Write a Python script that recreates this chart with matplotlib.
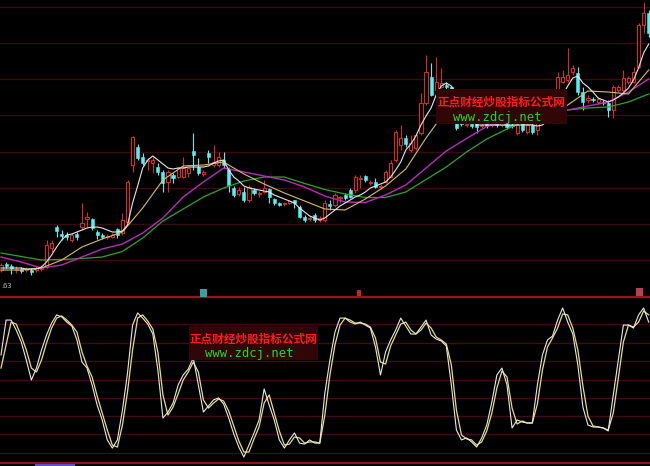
import matplotlib
matplotlib.use('Agg')
from matplotlib import pyplot as plt
from matplotlib.lines import Line2D
from matplotlib.patches import Rectangle
import numpy as np

plt.rcParams['font.family'] = ['Noto Sans CJK SC', 'DejaVu Sans']

# daily bars
opens = [4.78, 4.84, 4.82, 4.78, 4.79, 4.78, 4.78, 4.78, 4.79, 4.81,
         5.00, 5.21, 5.14, 5.13, 5.08, 5.14, 5.21, 5.29, 5.29, 5.16,
         5.13, 5.11, 5.11, 5.19, 5.15, 5.26, 5.83, 6.01, 5.91, 5.87,
         5.85, 5.81, 5.76, 5.66, 5.73, 5.71, 5.71, 5.75, 5.97, 5.81,
         5.74, 5.95, 5.83, 5.83, 5.88, 5.79, 5.60, 5.54, 5.56, 5.48,
         5.58, 5.54, 5.56, 5.59, 5.49, 5.45, 5.44, 5.45, 5.48, 5.41,
         5.31, 5.29, 5.33, 5.28, 5.28, 5.44, 5.43, 5.50, 5.53, 5.58,
         5.58, 5.69, 5.72, 5.65, 5.66, 5.61, 5.66, 5.71, 5.88, 6.03,
         6.10, 5.98, 6.00, 6.15, 6.45, 6.71, 6.58, 6.61, 6.63, 6.61,
         6.28, 6.25, 6.23, 6.24, 6.25, 6.22, 6.24, 6.23, 6.26, 6.23,
         6.24, 6.23, 6.15, 6.26, 6.16, 6.23, 6.18, 6.32, 6.33, 6.43,
         6.58, 6.66, 6.68, 6.76, 6.75, 6.56, 6.48, 6.49, 6.46, 6.46,
         6.45, 6.38, 6.58, 6.58, 6.66, 6.66, 6.81, 7.23, 7.35]
highs = [4.85, 4.86, 4.84, 4.82, 4.81, 4.81, 4.80, 4.82, 4.83, 5.08,
         5.08, 5.23, 5.18, 5.16, 5.15, 5.16, 5.45, 5.36, 5.30, 5.18,
         5.15, 5.14, 5.15, 5.20, 5.35, 5.68, 6.12, 6.04, 5.95, 5.90,
         5.91, 5.85, 5.78, 5.78, 5.75, 5.81, 5.91, 5.81, 6.15, 5.90,
         5.78, 5.98, 6.03, 5.96, 5.96, 5.81, 5.62, 5.61, 5.61, 5.63,
         5.60, 5.57, 5.68, 5.60, 5.50, 5.46, 5.46, 5.48, 5.48, 5.43,
         5.33, 5.32, 5.35, 5.32, 5.48, 5.48, 5.55, 5.52, 5.55, 5.60,
         5.73, 5.73, 5.73, 5.68, 5.70, 5.64, 5.78, 5.88, 6.18, 6.23,
         6.13, 6.13, 6.15, 6.55, 6.93, 6.85, 6.91, 6.80, 6.66, 6.62,
         6.35, 6.27, 6.26, 6.26, 6.27, 6.26, 6.26, 6.27, 6.28, 6.27,
         6.26, 6.25, 6.25, 6.28, 6.25, 6.25, 6.33, 6.35, 6.43, 6.58,
         6.76, 6.78, 7.00, 6.83, 6.81, 6.61, 6.53, 6.51, 6.51, 6.48,
         6.48, 6.63, 6.63, 6.78, 6.72, 6.81, 7.25, 7.46, 7.38]
lows = [4.76, 4.80, 4.74, 4.75, 4.75, 4.76, 4.73, 4.76, 4.77, 4.80,
        4.96, 5.11, 5.08, 5.08, 5.06, 5.08, 5.18, 5.21, 5.18, 5.09,
        5.09, 5.09, 5.10, 5.10, 5.13, 5.25, 5.76, 5.88, 5.83, 5.78,
        5.75, 5.73, 5.56, 5.56, 5.65, 5.70, 5.70, 5.71, 5.78, 5.73,
        5.72, 5.85, 5.81, 5.81, 5.80, 5.56, 5.51, 5.52, 5.46, 5.46,
        5.53, 5.51, 5.55, 5.45, 5.43, 5.42, 5.42, 5.44, 5.40, 5.30,
        5.26, 5.27, 5.26, 5.26, 5.26, 5.38, 5.41, 5.45, 5.48, 5.50,
        5.55, 5.60, 5.66, 5.63, 5.60, 5.59, 5.65, 5.70, 5.86, 5.98,
        6.01, 5.96, 5.98, 6.13, 6.43, 6.52, 6.56, 6.60, 6.56, 6.57,
        6.18, 6.22, 6.21, 6.20, 6.15, 6.20, 6.20, 6.21, 6.21, 6.21,
        6.19, 6.20, 6.13, 6.16, 6.14, 6.14, 6.13, 6.27, 6.31, 6.40,
        6.56, 6.65, 6.66, 6.73, 6.53, 6.38, 6.45, 6.46, 6.44, 6.43,
        6.31, 6.30, 6.56, 6.56, 6.64, 6.65, 6.80, 7.15, 7.11]
closes = [4.83, 4.82, 4.80, 4.79, 4.77, 4.79, 4.76, 4.80, 4.81, 5.03,
          5.05, 5.17, 5.12, 5.11, 5.13, 5.11, 5.25, 5.31, 5.20, 5.13,
          5.11, 5.12, 5.13, 5.13, 5.28, 5.66, 6.11, 5.90, 5.85, 5.88,
          5.88, 5.76, 5.65, 5.76, 5.70, 5.80, 5.80, 5.80, 5.93, 5.75,
          5.76, 5.91, 5.86, 5.91, 5.83, 5.63, 5.53, 5.58, 5.48, 5.61,
          5.55, 5.55, 5.60, 5.51, 5.45, 5.43, 5.45, 5.47, 5.45, 5.31,
          5.28, 5.30, 5.28, 5.30, 5.45, 5.42, 5.53, 5.51, 5.50, 5.51,
          5.71, 5.70, 5.68, 5.66, 5.61, 5.62, 5.76, 5.85, 6.16, 6.10,
          6.04, 6.05, 6.13, 6.45, 6.76, 6.53, 6.66, 6.65, 6.61, 6.59,
          6.20, 6.24, 6.24, 6.22, 6.21, 6.23, 6.22, 6.25, 6.23, 6.25,
          6.21, 6.22, 6.23, 6.18, 6.23, 6.16, 6.28, 6.29, 6.40, 6.56,
          6.71, 6.71, 6.73, 6.80, 6.56, 6.46, 6.50, 6.48, 6.49, 6.45,
          6.38, 6.61, 6.61, 6.70, 6.70, 6.76, 7.23, 7.35, 7.15]

# moving averages
ma5 = [4.80, 4.80, 4.80, 4.80, 4.80, 4.79, 4.79, 4.79, 4.81, 4.86,
       4.93, 5.01, 5.08, 5.13, 5.14, 5.16, 5.18, 5.20, 5.21, 5.21,
       5.20, 5.18, 5.16, 5.16, 5.17, 5.23, 5.45, 5.62, 5.80, 5.88,
       5.92, 5.88, 5.84, 5.80, 5.79, 5.80, 5.80, 5.81, 5.81, 5.81,
       5.81, 5.82, 5.85, 5.87, 5.88, 5.78, 5.71, 5.67, 5.62, 5.60,
       5.59, 5.58, 5.57, 5.56, 5.53, 5.51, 5.49, 5.47, 5.45, 5.40,
       5.36, 5.32, 5.30, 5.28, 5.30, 5.34, 5.38, 5.42, 5.45, 5.48,
       5.51, 5.53, 5.56, 5.60, 5.62, 5.64, 5.66, 5.71, 5.78, 5.86,
       5.98, 6.04, 6.12, 6.23, 6.32, 6.40, 6.53, 6.62, 6.65, 6.62,
       6.54, 6.46, 6.38, 6.30, 6.23, 6.23, 6.23, 6.23, 6.23, 6.23,
       6.23, 6.23, 6.23, 6.23, 6.23, 6.23, 6.22, 6.23, 6.27, 6.34,
       6.45, 6.53, 6.62, 6.70, 6.72, 6.65, 6.61, 6.56, 6.50, 6.48,
       6.46, 6.48, 6.51, 6.55, 6.60, 6.68, 6.80, 6.95, 7.04]
ma_idx = list(range(0, 129, 4))
ma10 = [4.78, 4.78, 4.80, 4.88, 5.01, 5.09, 5.16, 5.40, 5.68, 5.82, 5.83,
        5.86, 5.74, 5.64, 5.55, 5.47, 5.39, 5.38, 5.49, 5.62, 5.79, 6.10,
        6.38, 6.48, 6.36, 6.26, 6.24, 6.25, 6.43, 6.57, 6.56, 6.54, 6.78]
ma20 = [4.91, 4.86, 4.80, 4.83, 4.91, 4.99, 5.04, 5.15, 5.30, 5.51, 5.66,
        5.80, 5.76, 5.72, 5.68, 5.61, 5.52, 5.46, 5.455, 5.53, 5.63, 5.80,
        5.97, 6.095, 6.215, 6.27, 6.31, 6.35, 6.38, 6.42, 6.46, 6.56, 6.69]
ma60 = [4.95, 4.915, 4.88, 4.885, 4.895, 4.91, 4.965, 5.10, 5.27, 5.39, 5.51,
        5.60, 5.67, 5.71, 5.71, 5.645, 5.585, 5.54, 5.505, 5.505, 5.56, 5.685,
        5.81, 5.96, 6.09, 6.19, 6.28, 6.34, 6.38, 6.40, 6.41, 6.46, 6.54]

# oscillator K / D
k_vals = [65.1, 86.1, 86.1, 80.1, 72.9, 62.0, 50.0, 57.2, 68.1, 77.1,
          84.3, 89.2, 88.0, 84.9, 82.5, 74.1, 60.8, 57.2, 47.0, 34.9,
          25.9, 13.9, 9.0, 13.9, 31.9, 54.2, 83.1, 90.4, 87.3, 83.7,
          77.7, 56.0, 27.1, 30.7, 36.1, 47.0, 53.0, 56.6, 63.3, 47.0,
          30.7, 34.3, 38.0, 39.2, 35.5, 27.1, 17.5, 9.6, 3.6, 10.8,
          18.1, 25.9, 44.6, 34.9, 25.9, 13.9, 9.0, 13.9, 18.1, 12.0,
          11.4, 13.9, 12.0, 12.0, 42.2, 62.0, 78.9, 87.3, 87.3, 84.9,
          83.7, 84.9, 83.1, 81.3, 69.9, 53.0, 66.9, 74.1, 80.1, 87.3,
          82.5, 77.7, 77.7, 81.9, 86.1, 77.1, 74.7, 73.5, 70.5, 47.0,
          19.9, 13.9, 15.1, 12.7, 9.6, 15.1, 22.9, 36.7, 53.0, 57.2,
          47.0, 21.1, 25.9, 24.7, 24.1, 24.1, 47.0, 65.1, 74.1, 76.5,
          86.1, 93.4, 84.9, 77.7, 59.0, 33.7, 22.9, 21.7, 21.7, 21.1,
          19.3, 41.0, 62.0, 83.1, 83.1, 81.3, 89.2, 93.4, 84.9]
d_vals = [57.2, 71.1, 84.9, 83.7, 76.5, 68.1, 57.2, 54.8, 62.0, 72.3,
          81.3, 87.3, 88.6, 86.1, 83.1, 78.9, 66.9, 58.4, 51.8, 40.4,
          30.1, 19.9, 10.8, 9.6, 22.9, 42.8, 68.1, 87.3, 89.2, 85.5,
          80.7, 66.9, 41.0, 28.9, 33.7, 41.6, 50.0, 54.8, 60.8, 54.8,
          38.0, 33.1, 36.1, 38.6, 37.3, 31.3, 22.3, 13.3, 6.6, 6.6,
          14.5, 21.7, 36.1, 41.0, 30.1, 19.3, 10.8, 11.4, 15.7, 15.1,
          12.0, 12.7, 12.7, 12.0, 28.9, 53.0, 71.1, 83.1, 87.3, 86.1,
          84.3, 84.3, 83.7, 81.9, 75.3, 60.8, 59.6, 70.5, 77.1, 83.7,
          84.9, 80.1, 77.7, 80.1, 84.3, 81.3, 75.9, 74.1, 71.7, 59.0,
          31.9, 16.9, 14.5, 13.9, 10.8, 12.7, 19.3, 30.1, 45.2, 55.4,
          51.8, 33.1, 23.5, 25.3, 24.1, 24.1, 35.5, 56.0, 69.9, 75.3,
          81.3, 89.8, 89.2, 81.3, 68.1, 46.4, 28.3, 22.3, 21.7, 21.1,
          19.9, 30.1, 51.2, 72.9, 83.1, 81.9, 84.9, 91.6, 89.2]

W, H = 650, 466
RED = '#d42a2a'
CYAN = '#54f0f4'


def fx(px):
    return px / W


def fy(py):
    return 1 - py / H


def hline(py, color, lw):
    fig.add_artist(Line2D([0, 1], [fy(py), fy(py)], transform=fig.transFigure,
                          color=color, lw=lw, zorder=-1))


def box(x0, y0, x1, y1, color, z=5):
    fig.add_artist(Rectangle((fx(x0), fy(y1)), fx(x1) - fx(x0), fy(y0) - fy(y1),
                             transform=fig.transFigure, facecolor=color,
                             edgecolor='none', zorder=z))


fig = plt.figure(figsize=(6.5, 4.66), dpi=100, facecolor='black')
ax = fig.add_axes([0, fy(296.5), 1, 296.5 / H])
ax2 = fig.add_axes([0, fy(463), 1, 166 / H])
for a in (ax, ax2):
    a.set_facecolor('none')
    a.axis('off')
    a.set_xlim(-0.2, 128.26)
ax.set_ylim(4.515, 7.48)
ax2.set_ylim(0, 100)

# grid
for py in [7, 43, 79, 115, 151.5, 188, 224, 259.5]:
    hline(py, '#3a0a12', 1.0)
for py in [324, 343, 361, 379.5, 397.5, 416, 434, 452.5]:
    hline(py, '#420a16', 1.0)
hline(296.8, '#a0101c', 1.6)
hline(463.3, '#a0101c', 1.4)

# candles
o, h, l, c = (np.array(v) for v in (opens, highs, lows, closes))
idx = np.arange(len(o))
up = c >= o
ax.vlines(idx, l, h, colors=np.where(up, RED, CYAN), lw=0.8, zorder=2)
bottom = np.minimum(o, c)
height = np.maximum(np.abs(c - o), 0.008)
ax.bar(idx[up], height[up], 0.62, bottom=bottom[up], facecolor='black',
       edgecolor=RED, lw=0.8, zorder=3)
ax.bar(idx[~up], height[~up], 0.62, bottom=bottom[~up], facecolor=CYAN,
       edgecolor=CYAN, lw=0.4, zorder=3)

ax.plot(ma_idx, ma60, color='#2ea42e', lw=0.9, zorder=4)
ax.plot(ma_idx, ma20, color='#b82cb8', lw=1.0, zorder=4)
ax.plot(ma_idx, ma10, color='#d6c060', lw=0.8, zorder=4)
ax.plot(idx, ma5, color='#e6e6e6', lw=0.8, zorder=4)

ax2.plot(idx, d_vals, color='#e6e07a', lw=0.9)
ax2.plot(idx, k_vals, color='#e8e8e8', lw=0.8)

fig.text(fx(1), fy(285.5), '.63', color='#b4b4b4', fontsize=5.5,
         va='center', ha='left')

# watermarks
for cx, cy, bx in [(501, 102, (436, 89, 567, 124)), (253, 339, (189, 326, 318, 360))]:
    box(*bx, '#300606')
    fig.text(fx(cx), fy(cy), '正点财经炒股指标公式网', color='#ff1c1c', fontsize=8.35,
             fontweight='heavy', ha='center', va='center', zorder=6)
    fig.text(fx(cx - 4), fy(cy + 15), 'www.zdcj.net', color='#24d824', fontsize=8.8,
             family='DejaVu Sans Mono', ha='center', va='center', zorder=6)

# small markers
box(200, 289, 207, 297, '#3aa0a0')
box(357, 290, 361, 296, '#c02828')
box(636, 288, 643, 296, '#b84050')
box(35, 463.5, 75, 466, '#5a50c8')

fig.savefig('out.png', dpi=100, facecolor='black')
